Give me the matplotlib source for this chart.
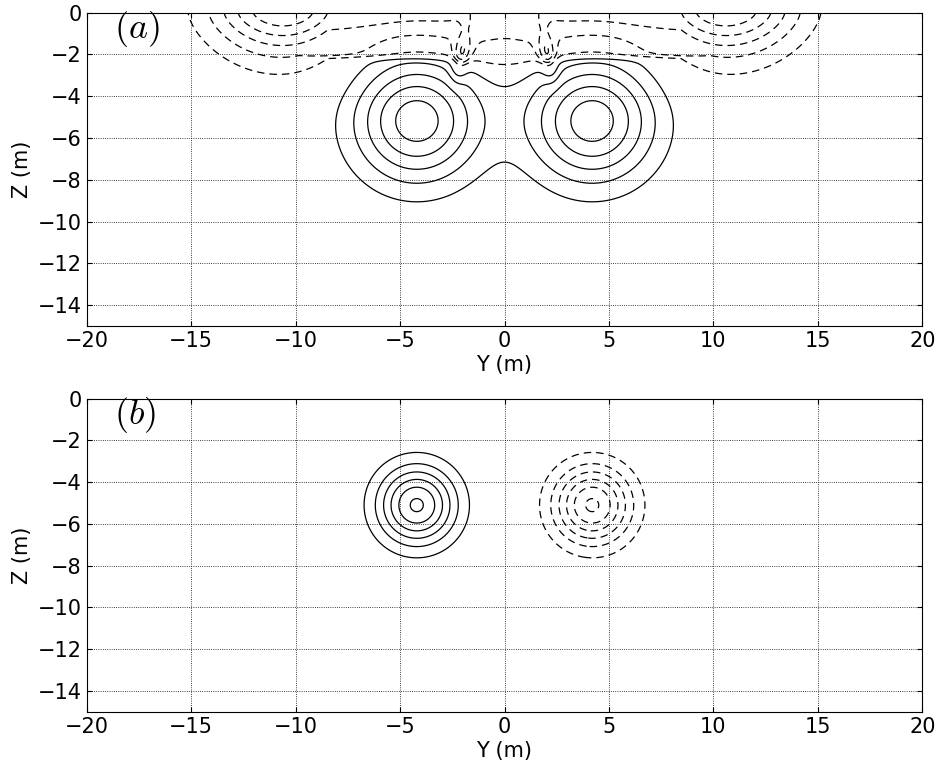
import numpy as np
import matplotlib.pyplot as plt

plt.rcParams['mathtext.fontset'] = 'cm'
plt.rcParams['contour.negative_linestyle'] = 'dashed'
plt.rcParams['lines.dashed_pattern'] = [6, 4]
plt.rcParams['xtick.direction'] = 'in'
plt.rcParams['ytick.direction'] = 'in'
plt.rcParams['xtick.top'] = True
plt.rcParams['ytick.right'] = True

# panel (a): co-rotating pair below the surface + surface features
vort_a_y = [-4.2, 4.2]
vort_a_z = [-5.1, -5.1]
vort_a_amp = [5.68, 5.68]
vort_a_r = 3.0

blob_y = [-10.6, 10.6]
blob_amp = [5.96, 5.96]
blob_wy = 3.4
blob_hz = 2.03

# surface layer, [side, centre]
layer_amp = [2.39, 2.1]
layer_top_amp = [0.66, 0.35]
layer_depth = [2.15, 2.75]
layer_edge = [0.15, 0.5]
layer_top_depth = 0.75
layer_halfwidth = 11.0

# weak deep tail under the layer
tail_amp = 0.5
tail_depth = 4.0
tail_edge = 1.3

strip_y0 = [-1.75, 1.75]
strip_tilt = [0.15, -0.15]
strip_amp = 2.6
strip_depth = 2.0
strip_w = 0.4

levels_a = [-5, -4, -3, -2, -1, 1, 2, 3, 4, 5]

# panel (b): counter-rotating pair
vort_b_y = [-4.2, 4.2]
vort_b_z = [-5.1, -5.1]
vort_b_amp = [6.17, -6.17]
vort_b_r = 1.87
levels_b = [-6, -5, -4, -3, -2, -1, 1, 2, 3, 4, 5, 6]

xticks = [-20, -15, -10, -5, 0, 5, 10, 15, 20]
yticks = [0, -2, -4, -6, -8, -10, -12, -14]

yy, zz = np.meshgrid(np.linspace(-20, 20, 1201), np.linspace(-15, 0, 451))


def gauss(y0, z0, amp, r):
    return amp * np.exp(-((yy - y0)**2 + (zz - z0)**2) / r**2)


def step(x, w):
    return 0.5 * (1 + np.tanh(x / w))


def blend(pair, f):
    return pair[0] + (pair[1] - pair[0]) * f


pos_a = sum(gauss(y0, z0, a, vort_a_r) for y0, z0, a in zip(vort_a_y, vort_a_z, vort_a_amp))
blobs = np.maximum.reduce([a * np.exp(-((yy - y0) / blob_wy)**2 - (np.abs(zz) / blob_hz)**1.5)
                           for y0, a in zip(blob_y, blob_amp)])
f = np.exp(-(yy / 1.9)**2)
fade = step(layer_halfwidth - np.abs(yy), 1.2)
layer = (blend(layer_amp, f) * step(zz + blend(layer_depth, f), blend(layer_edge, f))
         + blend(layer_top_amp, f) * step(zz + layer_top_depth, 0.3)) * fade
tail = tail_amp * (1 - 0.6 * f) * step(zz + tail_depth, tail_edge) * fade
strips = sum(strip_amp * np.exp(-((yy - (y0 + t * zz)) / strip_w)**2 - (zz + strip_depth)**2)
             for y0, t in zip(strip_y0, strip_tilt))
field_a = pos_a - (np.maximum(layer + tail, blobs) + strips)

field_b = sum(gauss(y0, z0, a, vort_b_r) for y0, z0, a in zip(vort_b_y, vort_b_z, vort_b_amp))

fig = plt.figure(figsize=(9.43, 7.68), dpi=100)
ax1 = fig.add_axes([0.092, 0.5755, 0.886, 0.408])
ax2 = fig.add_axes([0.092, 0.073, 0.886, 0.408])

for ax, field, levels, tag in [(ax1, field_a, levels_a, '(a)'), (ax2, field_b, levels_b, '(b)')]:
    ax.contour(yy, zz, field, levels=levels, colors='k', linewidths=0.9)
    ax.set_xlim(-20, 20)
    ax.set_ylim(-15, 0)
    ax.set_xticks(xticks)
    ax.set_yticks(yticks)
    ax.tick_params(labelsize=15)
    ax.grid(True, linestyle=':', color='k', linewidth=0.6)
    ax.set_xlabel('Y (m)', fontsize=15, labelpad=3)
    ax.set_ylabel('Z (m)', fontsize=15)
    ax.text(-18.7, -0.8, '$' + tag + '$', fontsize=26, va='center')

fig.savefig('out.png', dpi=100)
